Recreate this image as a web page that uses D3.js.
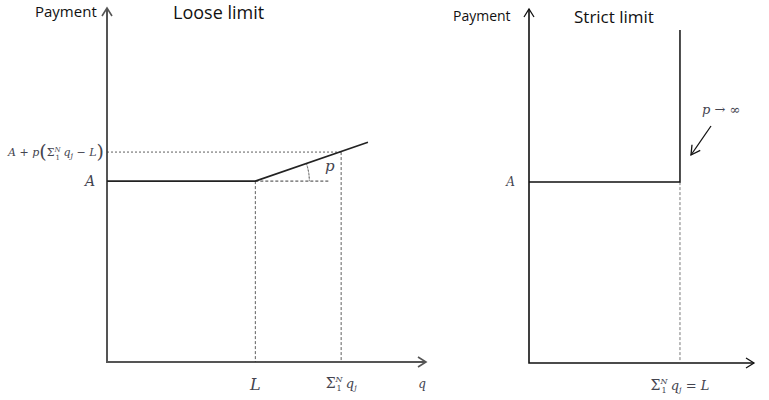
<!DOCTYPE html>
<html>
<head>
<meta charset="utf-8">
<script src="https://cdn.jsdelivr.net/npm/d3@7"></script>
<style>
  html, body { margin: 0; padding: 0; background: #fff; }
  svg { display: block; }
</style>
</head>
<body>
<div id="chart"></div>
<script>
// Payment schedules: loose limit vs strict limit (conceptual, axis units 0..10)

// Loose limit panel
const looseQ = [0, 4.65, 8.18];          // q along the schedule
const loosePay = [5.11, 5.11, 6.21];     // payment along the schedule
const looseLimit = 4.65;                 // L
const looseTotal = 7.34;                 // sum of q_j
const loosePayAtTotal = 5.93;            // A + p(sum q_j - L)
const looseA = 5.11;

// Strict limit panel
const strictQ = [0, 6.71, 6.71];
const strictPay = [5.11, 5.11, 9.41];
const strictLimit = 6.71;
const strictA = 5.11;

const panelTitles = ["Loose limit", "Strict limit"];
const yAxisTitle = "Payment";

(function() {
  'use strict';

  const width = 769, height = 400;
  const svg = d3.select("#chart").append("svg")
    .attr("width", width)
    .attr("height", height);

  const sans = "'Open Sans', 'Noto Sans', sans-serif";
  const serif = "'DejaVu Serif', 'Liberation Serif', serif";
  const mathColor = "#44444f";

  // scales for each panel
  const xL = d3.scaleLinear().domain([0, 10]).range([107, 426]);
  const yL = d3.scaleLinear().domain([0, 10]).range([362, 8]);
  const xR = d3.scaleLinear().domain([0, 10]).range([529, 754]);
  const yR = d3.scaleLinear().domain([0, 10]).range([363, 9]);

  const line = (xs, ys, sx, sy) => d3.line()(xs.map((q, i) => [sx(q), sy(ys[i])]));

  // open chevron arrowhead at (x,y) pointing in direction angle (radians)
  function chevron(g, x, y, ang, len, half, color, sw) {
    const bx = x - len * Math.cos(ang), by = y - len * Math.sin(ang);
    const px = -Math.sin(ang) * half, py = Math.cos(ang) * half;
    g.append("path")
      .attr("d", `M${bx + px},${by + py}L${x},${y}L${bx - px},${by - py}`)
      .attr("fill", "none").attr("stroke", color).attr("stroke-width", sw)
      .attr("stroke-linejoin", "miter");
  }

  // math label made of tspans
  function mathText(g, x, y, parts, anchor, size) {
    const t = g.append("text")
      .attr("x", x).attr("y", y)
      .attr("text-anchor", anchor || "start")
      .attr("font-family", serif)
      .attr("font-size", size || 12)
      .attr("fill", mathColor);
    parts.forEach(p => {
      const s = t.append("tspan").text(p.t);
      if (p.i) s.attr("font-style", "italic");
      if (p.fs) s.attr("font-size", p.fs);
      if (p.dy) s.attr("dy", p.dy);
      if (p.dx) s.attr("dx", p.dx);
    });
    return t;
  }

  function axes(g, sx, sy, color, sw) {
    const x0 = sx(0), y0 = sy(0);
    g.append("path")
      .attr("d", `M${x0},${sy(10)}V${y0}H${sx(10)}`)
      .attr("fill", "none").attr("stroke", color).attr("stroke-width", sw);
    chevron(g, x0, sy(10), -Math.PI / 2, 8, 5, color, sw * 0.8);
    chevron(g, sx(10), y0, 0, 8, 5, color, sw * 0.8);
  }

  // ---------- Loose limit ----------
  const gl = svg.append("g");
  axes(gl, xL, yL, "#555", 2);

  // dotted guide at A + p(...)
  gl.append("line")
    .attr("x1", xL(0)).attr("x2", xL(looseTotal))
    .attr("y1", yL(loosePayAtTotal)).attr("y2", yL(loosePayAtTotal))
    .attr("stroke", "#333").attr("stroke-width", 0.8).attr("stroke-dasharray", "2,2");
  // dashed verticals
  [[looseLimit, looseA], [looseTotal, loosePayAtTotal]].forEach(([q, pay]) => {
    gl.append("line")
      .attr("x1", xL(q)).attr("x2", xL(q))
      .attr("y1", yL(pay)).attr("y2", yL(0))
      .attr("stroke", "#333").attr("stroke-width", 0.8).attr("stroke-dasharray", "3,2");
  });
  // dashed horizontal for slope angle
  gl.append("line")
    .attr("x1", xL(looseLimit)).attr("x2", xL(looseTotal) - 11)
    .attr("y1", yL(looseA)).attr("y2", yL(looseA))
    .attr("stroke", "#222").attr("stroke-width", 0.9).attr("stroke-dasharray", "3,2");
  // angle arc
  const cx = xL(looseLimit), cy = yL(looseA);
  const slopeAng = Math.atan2(yL(loosePay[2]) - cy, xL(looseQ[2]) - cx);
  const r = 54;
  gl.append("path")
    .attr("d", d3.arc()({ innerRadius: r, outerRadius: r,
      startAngle: Math.PI / 2 + slopeAng, endAngle: Math.PI / 2 }))
    .attr("transform", `translate(${cx},${cy})`)
    .attr("fill", "none").attr("stroke", "#555").attr("stroke-width", 0.7)
    .attr("stroke-dasharray", "2,1.5");

  // payment schedule
  gl.append("path")
    .attr("d", line(looseQ, loosePay, xL, yL))
    .attr("fill", "none").attr("stroke", "#222").attr("stroke-width", 1.6);

  // labels
  gl.append("text").attr("x", 35).attr("y", 17)
    .attr("font-family", sans).attr("font-size", 15).attr("fill", "#111").text(yAxisTitle);
  gl.append("text").attr("x", 173).attr("y", 19)
    .attr("font-family", sans).attr("font-size", 18).attr("fill", "#111").text(panelTitles[0]);

  mathText(gl, 95, yL(looseA) + 5, [{ t: "A", i: true }], "end", 14);
  mathText(gl, 8, yL(loosePayAtTotal) + 4, [
    { t: "A", i: true }, { t: " + " }, { t: "p", i: true },
    { t: "(", fs: 19, dy: 2 }, { t: "Σ", fs: 11, dy: -2 },
    { t: "N", i: true, fs: 7, dy: -4 }, { t: "1", fs: 7, dx: -5, dy: 8 },
    { t: " q", i: true, dy: -4 }, { t: "j", i: true, fs: 8, dy: 2 },
    { t: " − ", dy: -2 }, { t: "L", i: true }, { t: ")", fs: 19, dy: 2 }
  ], "start", 11);
  mathText(gl, 325, yL(looseA) - 10, [{ t: "p", i: true }], "start", 15);
  mathText(gl, xL(looseLimit), 390, [{ t: "L", i: true }], "middle", 16);
  mathText(gl, xL(looseTotal), 388, [
    { t: "Σ", fs: 14 }, { t: "N", i: true, fs: 8, dy: -6 },
    { t: "1", fs: 8, dx: -6, dy: 9 }, { t: " q", i: true, dy: -3, fs: 13 },
    { t: "j", i: true, fs: 8, dy: 2 }
  ], "middle", 13);
  mathText(gl, 422, 388, [{ t: "q", i: true }], "middle", 12);

  // ---------- Strict limit ----------
  const gr = svg.append("g");
  axes(gr, xR, yR, "#111", 1.6);

  gr.append("line")
    .attr("x1", xR(strictLimit)).attr("x2", xR(strictLimit))
    .attr("y1", yR(strictA)).attr("y2", yR(0))
    .attr("stroke", "#555").attr("stroke-width", 0.8).attr("stroke-dasharray", "3,2");

  gr.append("path")
    .attr("d", line(strictQ, strictPay, xR, yR))
    .attr("fill", "none").attr("stroke", "#111").attr("stroke-width", 1.5);

  gr.append("text").attr("x", 453).attr("y", 21)
    .attr("font-family", sans).attr("font-size", 14).attr("fill", "#111").text(yAxisTitle);
  gr.append("text").attr("x", 574).attr("y", 23)
    .attr("font-family", sans).attr("font-size", 17).attr("fill", "#111").text(panelTitles[1]);

  mathText(gr, 515, yR(strictA) + 4, [{ t: "A", i: true }], "end", 12);
  mathText(gr, 702, 114, [{ t: "p", i: true }, { t: " → ∞" }], "start", 13);

  // pointer arrow to the vertical segment
  gr.append("line")
    .attr("x1", 711).attr("y1", 126).attr("x2", 691).attr("y2", 155)
    .attr("stroke", "#111").attr("stroke-width", 1.3);
  chevron(gr, 691, 155, Math.atan2(29, -20), 9, 5, "#111", 1.3);

  mathText(gr, xR(strictLimit), 390, [
    { t: "Σ", fs: 14 }, { t: "N", i: true, fs: 8, dy: -6 },
    { t: "1", fs: 8, dx: -6, dy: 9 }, { t: " q", i: true, dy: -3 },
    { t: "j", i: true, fs: 8, dy: 2 }, { t: " = ", dy: -2 }, { t: "L", i: true }
  ], "middle", 13);
})();
</script>
</body>
</html>
